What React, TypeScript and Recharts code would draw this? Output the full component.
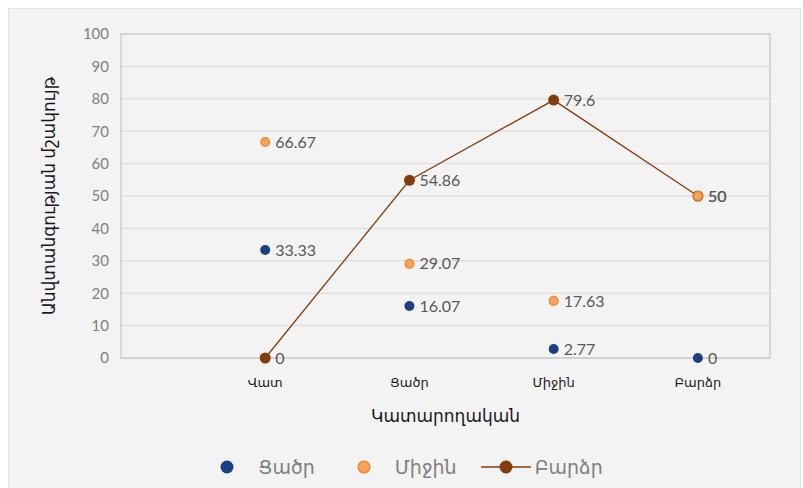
import {
  ComposedChart,
  Line,
  XAxis,
  YAxis,
  CartesianGrid,
  LabelList,
  Legend,
  ReferenceArea,
} from "recharts";

// Performance levels along the x axis (placed at positions 1..4)
const levels = ["Վատ", "Ցածր", "Միջին", "Բարձր"];
const levelPos = [1, 2, 3, 4];

// Safety culture score for each group
const lowValues = [33.33, 16.07, 2.77, 0];
const midValues = [66.67, 29.07, 17.63, 50];
const highValues = [0, 54.86, 79.6, 50];

const yTicks = [0, 10, 20, 30, 40, 50, 60, 70, 80, 90, 100];

const seriesNames = { low: "Ցածր", mid: "Միջին", high: "Բարձր" };

const COLORS = {
  low: "#1b3f87",
  midFill: "#f9a45c",
  midStroke: "#ee8a34",
  high: "#843c0c",
  label: "#595959",
  grid: "#e0e0e0",
  frame: "#d0d0d0",
};

const FONT = "Lato, 'DejaVu Sans', sans-serif";

const rows = levelPos.map((x, i) => ({
  x,
  low: lowValues[i],
  mid: midValues[i],
  high: highValues[i],
}));

function Dot(props: any, fill: string, r: number, stroke?: string) {
  const { cx, cy } = props;
  if (cx == null || cy == null) return null;
  return (
    <circle
      cx={cx}
      cy={cy}
      r={r}
      fill={fill}
      stroke={stroke ?? fill}
      strokeWidth={stroke ? 1.5 : 0}
    />
  );
}

function ChartLegend() {
  const text = { fontSize: 19, color: "#808080", fontFamily: FONT };
  return (
    <div
      style={{
        display: "flex",
        alignItems: "center",
        justifyContent: "center",
        paddingLeft: 20,
      }}
    >
      <svg width={14} height={14} style={{ marginRight: 24 }}>
        <circle cx={7} cy={7} r={6.5} fill={COLORS.low} />
      </svg>
      <span style={{ ...text, marginRight: 42 }}>{seriesNames.low}</span>
      <svg width={14} height={14} style={{ marginRight: 24 }}>
        <circle cx={7} cy={7} r={5.8} fill={COLORS.midFill} stroke={COLORS.midStroke} strokeWidth={1.5} />
      </svg>
      <span style={{ ...text, marginRight: 24 }}>{seriesNames.mid}</span>
      <svg width={50} height={14} style={{ marginRight: 4 }}>
        <line x1={0} y1={7} x2={50} y2={7} stroke={COLORS.high} strokeWidth={1.5} />
        <circle cx={25} cy={7} r={6.5} fill={COLORS.high} />
      </svg>
      <span style={text}>{seriesNames.high}</span>
    </div>
  );
}

export default function App() {
  return (
    <div
      style={{
        position: "absolute",
        left: 0,
        top: 0,
        width: 803,
        height: 488,
        background: "#ffffff",
        overflow: "hidden",
      }}
    >
      <div
        style={{
          position: "absolute",
          left: 8,
          top: 8,
          width: 791,
          height: 490,
          background: "#f3f3f3",
          border: "1.5px solid #e2e2e2",
        }}
      />
      <div style={{ position: "absolute", left: 0, top: 0 }}>
        <ComposedChart
          width={803}
          height={488}
          data={rows}
          margin={{ top: 34, right: 33, left: 61, bottom: 100 }}
          style={{ fontFamily: FONT }}
        >
          <CartesianGrid vertical={false} stroke={COLORS.grid} strokeWidth={1.5} />
          <ReferenceArea
            x1={0}
            x2={4.5}
            y1={0}
            y2={100}
            fill="none"
            stroke={COLORS.frame}
            strokeWidth={1.5}
            ifOverflow="visible"
          />
          <XAxis
            type="number"
            dataKey="x"
            domain={[0, 4.5]}
            ticks={levelPos}
            tickFormatter={(v: number) => levels[v - 1] ?? ""}
            tick={{ fontSize: 13, fill: "#1a1a1a" }}
            tickLine={false}
            axisLine={{ stroke: COLORS.frame, strokeWidth: 1.5 }}
            tickMargin={14}
            height={30}
            label={{
              value: "Կատարողական",
              position: "bottom",
              offset: 22,
              fontSize: 17,
              fill: "#1a1a1a",
            }}
          />
          <YAxis
            type="number"
            domain={[0, 100]}
            ticks={yTicks}
            tick={{ fontSize: 15, fill: "#808080" }}
            tickLine={false}
            axisLine={false}
            tickMargin={6}
            width={60}
            label={{
              value: "Անվտանգության մշակույթ",
              angle: -90,
              position: "insideLeft",
              offset: -12,
              fontSize: 17,
              fill: "#1a1a1a",
              style: { textAnchor: "middle" },
            }}
          />
          <Line
            dataKey="high"
            name={seriesNames.high}
            type="linear"
            stroke={COLORS.high}
            strokeWidth={1.3}
            dot={(p: any) => Dot(p, COLORS.high, 5.5)}
            activeDot={false}
            isAnimationActive={false}
          >
            <LabelList dataKey="high" position="right" offset={10} fontSize={16} fill={COLORS.label} />
          </Line>
          <Line
            dataKey="low"
            name={seriesNames.low}
            stroke="none"
            dot={(p: any) => Dot(p, COLORS.low, 5)}
            activeDot={false}
            isAnimationActive={false}
          >
            <LabelList dataKey="low" position="right" offset={10} fontSize={16} fill={COLORS.label} />
          </Line>
          <Line
            dataKey="mid"
            name={seriesNames.mid}
            stroke="none"
            dot={(p: any) => Dot(p, COLORS.midFill, 4.3, COLORS.midStroke)}
            activeDot={false}
            isAnimationActive={false}
          >
            <LabelList dataKey="mid" position="right" offset={10} fontSize={16} fill={COLORS.label} />
          </Line>
          <Legend
            layout="horizontal"
            verticalAlign="middle"
            align="center"
            content={() => <ChartLegend />}
            wrapperStyle={{ top: 455, left: 0, width: 803 }}
          />
        </ComposedChart>
      </div>
    </div>
  );
}
